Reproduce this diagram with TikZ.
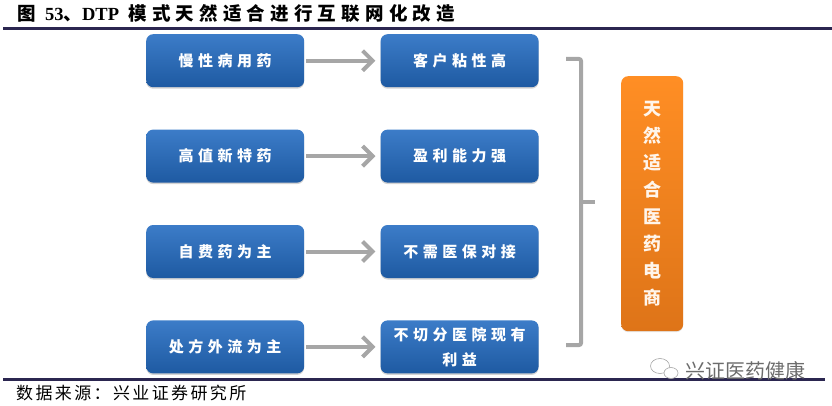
\documentclass[tikz,border=0pt]{standalone}
\usepackage{fontspec}
\setmainfont{Liberation Serif}
\newfontfamily\cjk{Noto Sans CJK SC}
\newfontfamily\cjkwide[LetterSpace=30]{Noto Sans CJK SC}
\newfontfamily\cjktitle[LetterSpace=28]{Noto Sans CJK SC}
\newfontfamily\cjksource[LetterSpace=14]{Noto Sans CJK SC}
\usetikzlibrary{positioning,shapes,shadows,arrows.meta}
\definecolor{rulecol}{HTML}{2B2650}
\definecolor{arrowcol}{HTML}{A6A6A6}
\definecolor{boxtop}{HTML}{3C7CC8}
\definecolor{boxbot}{HTML}{1E5AA2}
\definecolor{orangetop}{HTML}{FF8E24}
\definecolor{orangebot}{HTML}{DE7418}
\tikzset{
  item/.style={rectangle, rounded corners=7pt, top color=boxtop, bottom color=boxbot,
    drop shadow={shadow xshift=0pt, shadow yshift=-1.5pt, opacity=0.35},
    text=white, align=center, minimum width=158pt, minimum height=53pt, inner sep=0pt,
    font=\cjkwide\bfseries\fontsize{15}{25}\selectfont},
  link/.style={draw=arrowcol, line width=4pt, -{Straight Barb[length=10pt,width=20pt,line width=4pt]}, shorten <=2pt, shorten >=5pt},
  brace/.style={draw=arrowcol, line width=4pt},
  rulebar/.style={draw=rulecol, line width=3pt},
}
\begin{document}
\begin{tikzpicture}
    \useasboundingbox (0pt,-406pt) rectangle (832pt,0pt);

    % title and rules
    \node (Title) [anchor=west, inner sep=0pt] at (17pt,-13pt)
        {\cjktitle\bfseries\fontsize{18.5}{20}\selectfont 图 {\rmfamily\addfontfeature{LetterSpace=0}53}、{\rmfamily DTP} 模式天然适合进行互联网化改造};
    \coordinate (RuleTopL) at (3pt,-29pt);
    \coordinate (RuleTopR) at (832pt,-29pt);
    \coordinate (RuleBotL) at (3pt,-379pt);
    \coordinate (RuleBotR) at (825pt,-379pt);
    \draw[rulebar] (RuleTopL) -- (RuleTopR);
    \draw[rulebar] (RuleBotL) -- (RuleBotR);

    % left column
    \node (Manxing) [item, anchor=north west] at (146pt,-34pt) {慢性病用药};
    \node (Gaozhi) [item, below=42pt of Manxing] {高值新特药};
    \node (Zifei) [item, below=42pt of Gaozhi] {自费药为主};
    \node (Chufang) [item, below=42pt of Zifei] {处方外流为主};

    % right column
    \node (Kehu) [item, right=76pt of Manxing] {客户粘性高};
    \node (Yingli) [item, right=76pt of Gaozhi] {盈利能力强};
    \node (Yibao) [item, right=76pt of Zifei] {不需医保对接};
    \node (Yiyuan) [item, right=76pt of Chufang] {不切分医院现有\\利益};

    \draw[link] (Manxing) -- (Kehu);
    \draw[link] (Gaozhi) -- (Yingli);
    \draw[link] (Zifei) -- (Yibao);
    \draw[link] (Chufang) -- (Yiyuan);

    % result box
    \node (Result) [rectangle, rounded corners=7pt, top color=orangetop, bottom color=orangebot,
        drop shadow={shadow xshift=0pt, shadow yshift=-1pt, opacity=0.2},
        text=white!92!orange, align=center, minimum width=62pt, minimum height=255pt, inner sep=0pt,
        anchor=north west, font=\cjk\bfseries\fontsize{18}{27}\selectfont] at (621pt,-76pt)
        {天\\然\\适\\合\\医\\药\\电\\商};

    % bracket
    \coordinate (BraceA) at (566pt,-59pt);
    \coordinate (BraceB) at (581pt,-59pt);
    \coordinate (BraceC) at (581pt,-345pt);
    \coordinate (BraceD) at (566pt,-345pt);
    \coordinate (BraceM) at (581pt,-202pt);
    \coordinate (BraceN) at (595pt,-202pt);
    \draw[brace, rounded corners=2pt] (BraceA) -- (BraceB) -- (BraceC) -- (BraceD);
    \draw[brace] (BraceM) -- (BraceN);

    % source and watermark
    \node (Source) [anchor=west, inner sep=0pt] at (16pt,-393pt)
        {\cjksource\fontsize{17}{18}\selectfont 数据来源：兴业证券研究所};
    \node (BubbleA) [ellipse, draw=gray!70, fill=white, line width=0.6pt, minimum width=19pt, minimum height=15pt, inner sep=0pt] at (660pt,-366pt) {};
    \node (BubbleB) [ellipse, draw=gray!70, fill=white, line width=0.6pt, minimum width=14pt, minimum height=11pt, inner sep=0pt] at (671pt,-373pt) {};
    \node (Mark) [anchor=west, inner sep=0pt, text=gray!85!black] at (685pt,-371pt)
        {\cjk\fontsize{20}{20}\selectfont 兴证医药健康};
\end{tikzpicture}
\end{document}
